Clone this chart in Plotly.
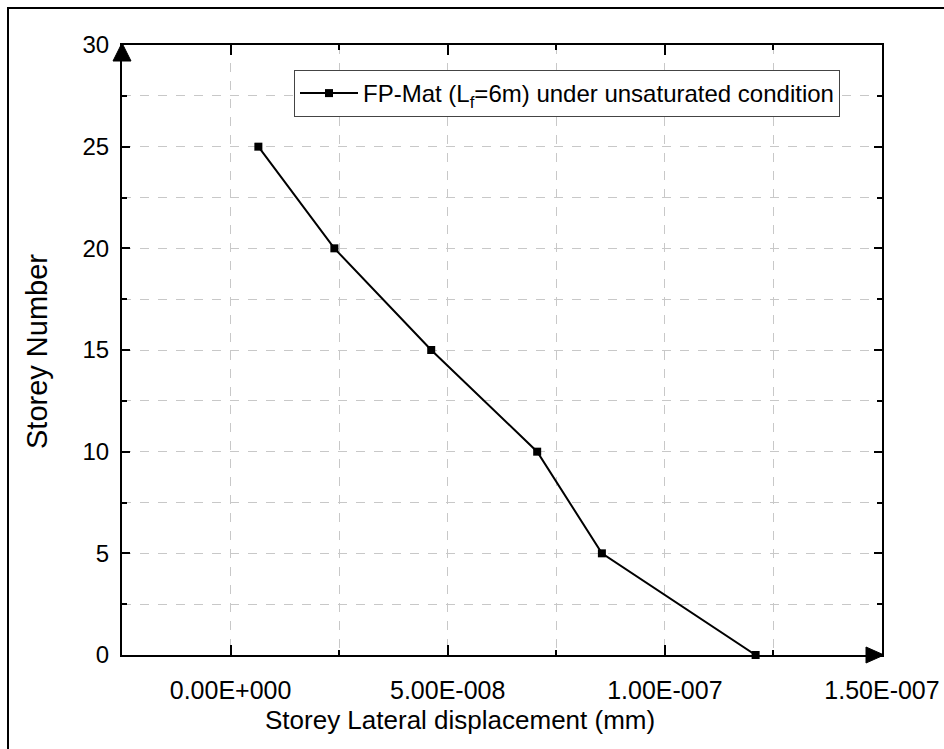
import plotly.graph_objects as go

# Data
storey = [25, 20, 15, 10, 5, 0]
displacement = [6.4e-9, 2.39e-8, 4.62e-8, 7.06e-8, 8.55e-8, 1.209e-7]

x_tickvals = [0, 5e-8, 1e-7, 1.5e-7]
x_ticktext = ["0.00E+000", "5.00E-008", "1.00E-007", "1.50E-007"]
y_tickvals = [0, 5, 10, 15, 20, 25, 30]

series_name = "FP-Mat (L<sub>f</sub>=6m) under unsaturated condition"
x_title = "Storey Lateral displacement (mm)"
y_title = "Storey Number"

W, H = 944, 749
L, R, T, B = 122, 62, 45, 94
pw, ph = W - L - R, H - T - B

def px(x):
    return (x - L) / pw

def py(y):
    return (H - B - y) / ph

FONT = "Liberation Sans, Arial, sans-serif"

fig = go.Figure()
fig.add_trace(go.Scatter(
    x=displacement, y=storey, mode="lines+markers", name=series_name,
    line=dict(color="black", width=2),
    marker=dict(symbol="square", size=8, color="black"),
    cliponaxis=False,
))

grid = dict(showgrid=True, gridcolor="#c8c8c8", griddash="dash", gridwidth=1)

fig.update_layout(
    width=W, height=H,
    margin=dict(l=L, r=R, t=T, b=B, autoexpand=False),
    paper_bgcolor="white", plot_bgcolor="white",
    font=dict(family=FONT, color="black", size=24),
    showlegend=True,
    legend=dict(
        x=px(294), y=py(70), xanchor="left", yanchor="top",
        bordercolor="#444", borderwidth=1, bgcolor="white",
        font=dict(size=24, family=FONT, color="black"), itemwidth=58,
    ),
    xaxis=dict(
        range=[-2.5e-8, 1.5e-7], tickvals=x_tickvals, ticktext=x_ticktext,
        ticks="inside", ticklen=10, tickwidth=2, tickcolor="black",
        showline=True, linewidth=2, linecolor="black", mirror="ticks",
        zeroline=False, tickfont=dict(size=25), ticklabelstandoff=12,
        automargin=False,
        minor=dict(dtick=2.5e-8, tick0=0, ticks="inside", ticklen=5, tickwidth=2,
                   tickcolor="black", **grid),
        **grid,
    ),
    yaxis=dict(
        range=[0, 30], tickvals=y_tickvals,
        ticks="inside", ticklen=8, tickwidth=2, tickcolor="black",
        showline=True, linewidth=2, linecolor="black", mirror="ticks",
        zeroline=False, tickfont=dict(size=24), ticklabelstandoff=6,
        automargin=False,
        minor=dict(dtick=2.5, tick0=0, ticks="inside", ticklen=5, tickwidth=2,
                   tickcolor="black", **grid),
        **grid,
    ),
    annotations=[
        dict(text=x_title, xref="paper", yref="paper", x=px(460), y=py(720),
             xanchor="center", yanchor="middle", showarrow=False,
             font=dict(size=26, family=FONT)),
        dict(text=y_title, xref="paper", yref="paper", x=px(37), y=py(352),
             xanchor="center", yanchor="middle", showarrow=False, textangle=-90,
             font=dict(size=29, family=FONT)),
    ],
)

shapes = []
# outer frame
shapes.append(dict(type="rect", xref="paper", yref="paper",
                   x0=px(8), x1=px(960), y0=py(8), y1=py(770),
                   line=dict(color="black", width=2), layer="below"))
# y-axis arrow
shapes.append(dict(type="path", xref="paper", yref="paper",
                   path=f"M {px(122)} {py(43)} L {px(113)} {py(61)} L {px(131)} {py(61)} Z",
                   fillcolor="black", line=dict(color="black", width=1)))
# x-axis arrow
shapes.append(dict(type="path", xref="paper", yref="paper",
                   path=f"M {px(884)} {py(655)} L {px(866)} {py(647)} L {px(866)} {py(663)} Z",
                   fillcolor="black", line=dict(color="black", width=1)))
fig.update_layout(shapes=shapes)

fig.write_html("out.html")
